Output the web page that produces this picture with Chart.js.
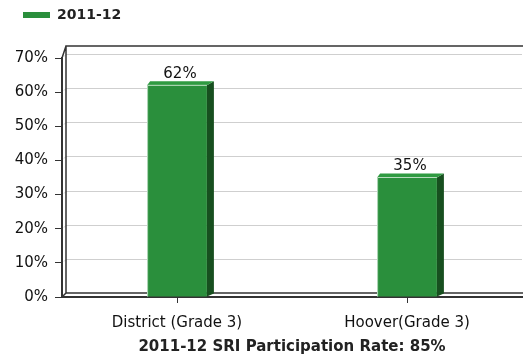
<!DOCTYPE html>
<html>
<head>
<meta charset="utf-8">
<script src="https://cdn.jsdelivr.net/npm/chart.js@4"></script>
<style>
  html, body { margin: 0; padding: 0; background: #fff; }
  #wrap { width: 523px; height: 357px; }
</style>
</head>
<body>
<div id="wrap"><canvas id="chart" width="523" height="357"></canvas></div>
<script>
const categories = ['District (Grade 3)', 'Hoover(Grade 3)'];
const seriesName = '2011-12';
const values = [62, 35];
const yTicks = [0, 10, 20, 30, 40, 50, 60, 70];
const chartTitle = '2011-12 SRI Participation Rate: 85%';

const FONT = '"DejaVu Sans", sans-serif';
const DEPTH = 7;

// push the plot down below the legend
const legendSpace = {
  id: 'legendSpace',
  beforeInit(chart) {
    const fit = chart.legend.fit;
    chart.legend.fit = function () {
      fit.bind(chart.legend)();
      this.height += 26;
    };
  }
};

// fake 3d look: back wall, grid on the wall, bar side and top faces
const bar3d = {
  id: 'bar3d',
  beforeDatasetsDraw(chart) {
    const { ctx, chartArea: a, scales } = chart;
    ctx.save();
    ctx.strokeStyle = '#cfcfcf';
    ctx.lineWidth = 1;
    yTicks.forEach(v => {
      if (v === 0) return;
      const y = Math.round(scales.y.getPixelForValue(v)) - 3.5;
      ctx.beginPath();
      ctx.moveTo(a.left + 2, y + 2);
      ctx.lineTo(a.left + 4, y);
      ctx.lineTo(a.right, y);
      ctx.stroke();
    });
    ctx.strokeStyle = '#333';
    ctx.lineWidth = 1.5;
    ctx.beginPath();
    ctx.moveTo(a.left + 4, a.bottom - 4);
    ctx.lineTo(a.left + 4, a.top - 12);
    ctx.lineTo(a.right + 2, a.top - 12);
    ctx.moveTo(a.left + 4, a.bottom - 4);
    ctx.lineTo(a.right + 2, a.bottom - 4);
    ctx.moveTo(a.left, a.bottom);
    ctx.lineTo(a.left + 4, a.bottom - 4);
    ctx.moveTo(a.left, a.top);
    ctx.lineTo(a.left + 4, a.top - 12);
    ctx.stroke();
    ctx.restore();
  },
  afterDatasetsDraw(chart) {
    const { ctx } = chart;
    const meta = chart.getDatasetMeta(0);
    ctx.save();
    meta.data.forEach((bar, i) => {
      const l = bar.x - bar.width / 2, r = bar.x + bar.width / 2;
      const t = bar.y, b = bar.base;
      ctx.fillStyle = '#174f1f';
      ctx.beginPath();
      ctx.moveTo(r, b);
      ctx.lineTo(r, t);
      ctx.lineTo(r + DEPTH, t - 4);
      ctx.lineTo(r + DEPTH, b - 3);
      ctx.closePath();
      ctx.fill();
      ctx.fillStyle = '#2f9a41';
      ctx.beginPath();
      ctx.moveTo(l, t);
      ctx.lineTo(l + 3, t - 4);
      ctx.lineTo(r + DEPTH, t - 4);
      ctx.lineTo(r, t);
      ctx.closePath();
      ctx.fill();
      ctx.strokeStyle = '#b9dcbf';
      ctx.lineWidth = 1;
      ctx.beginPath();
      ctx.moveTo(l + 0.5, b);
      ctx.lineTo(l + 0.5, t);
      ctx.lineTo(r, t);
      ctx.stroke();
      ctx.fillStyle = '#111';
      ctx.font = '15px ' + FONT;
      ctx.textAlign = 'center';
      ctx.textBaseline = 'bottom';
      ctx.fillText(values[i] + '%', bar.x + 3, t - 4);
    });
    ctx.restore();
  }
};

new Chart(document.getElementById('chart'), {
  type: 'bar',
  data: {
    labels: categories,
    datasets: [{
      label: seriesName,
      data: values,
      backgroundColor: '#2a8f3c',
      borderWidth: 0,
      barPercentage: 0.26,
      categoryPercentage: 1
    }]
  },
  options: {
    responsive: false,
    animation: false,
    layout: { padding: { left: 15, right: 1, top: 0, bottom: 2 } },
    plugins: {
      legend: {
        align: 'start',
        labels: {
          boxWidth: 27, boxHeight: 6, padding: 8,
          color: '#222',
          font: { family: FONT, size: 14, weight: 'bold' }
        }
      },
      title: { display: false },
      tooltip: { enabled: false }
    },
    scales: {
      x: {
        grid: { display: true, offset: false, drawOnChartArea: false, tickColor: '#333', tickLength: 6 },
        border: { color: '#333', width: 2 },
        ticks: { color: '#111', padding: 13, font: { family: FONT, size: 15, lineHeight: 1 } },
        title: {
          display: true,
          text: chartTitle,
          color: '#222',
          padding: { top: -4, bottom: 0 },
          font: { family: FONT, size: 15, weight: 'bold', lineHeight: 1 }
        }
      },
      y: {
        min: 0, max: 70,
        afterBuildTicks(s) { s.ticks = yTicks.map(v => ({ value: v })); },
        afterFit(s) { s.width = 47; },
        grid: { drawOnChartArea: false, tickColor: '#333', tickLength: 7 },
        border: { color: '#333', width: 2 },
        ticks: {
          color: '#111', padding: 7,
          font: { family: FONT, size: 15 },
          callback: v => v + '%'
        }
      }
    }
  },
  plugins: [bar3d, legendSpace]
});
</script>
</body>
</html>
